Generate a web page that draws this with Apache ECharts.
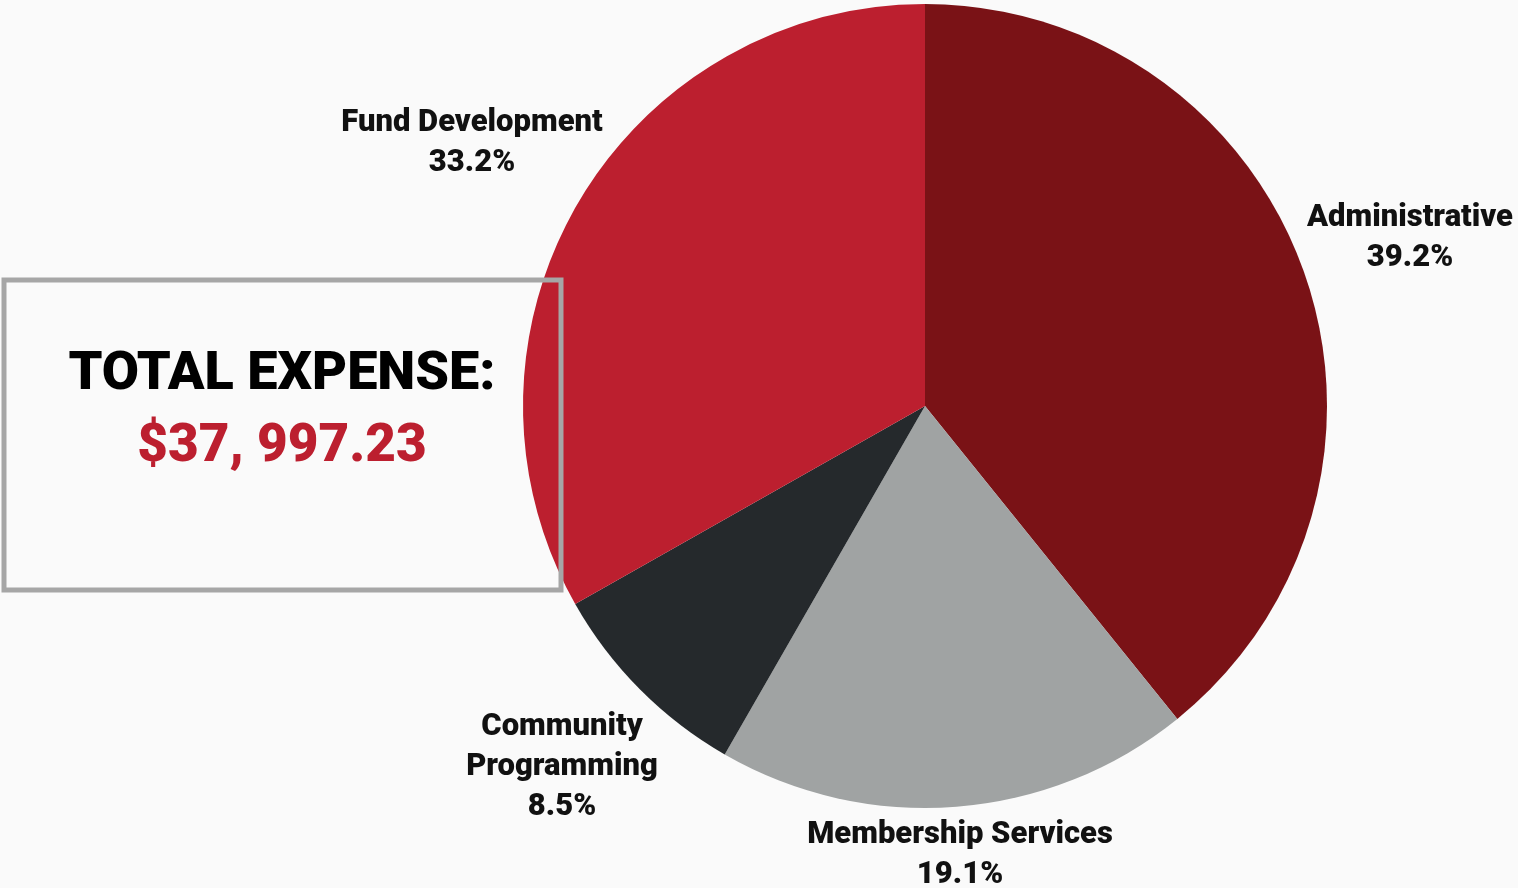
<!DOCTYPE html>
<html><head><meta charset="utf-8">
<script src="https://cdn.jsdelivr.net/npm/echarts@6/dist/echarts.min.js"></script>
<style>html,body{margin:0;padding:0;background:#fafafa;}#c{width:1518px;height:888px;}</style>
</head><body><div id="c"></div>
<script>
const categories = ['Administrative', 'Membership Services', 'Community\nProgramming', 'Fund Development'];
const values = [39.2, 19.1, 8.5, 33.2];
const colors = ['#7a1216', '#a0a3a3', '#25292c', '#bc1f2f'];
const labelSpots = [[1410, 238], [960, 855], [562, 767], [472, 143]];
const totalTitle = 'TOTAL EXPENSE:';
const totalValue = '$37, 997.23';

const chart = echarts.init(document.getElementById('c'), null, {renderer: 'canvas'});
chart.setOption({
  backgroundColor: '#fafafa',
  animation: false,
  series: [{
    type: 'pie',
    center: [925, 406],
    radius: 402,
    startAngle: 90,
    clockwise: true,
    data: categories.map((c, i) => ({name: c, value: values[i], itemStyle: {color: colors[i]}})),
    itemStyle: {borderWidth: 0},
    label: {
      show: true,
      position: 'outside',
      formatter: p => p.name + '\n' + p.value.toFixed(1) + '%',
      fontFamily: 'Roboto',
      fontWeight: 900,
      fontSize: 31,
      lineHeight: 40,
      color: '#111',
      align: 'center',
      overflow: 'none',
      width: 400
    },
    labelLine: {show: false},
    labelLayout: p => ({x: labelSpots[p.dataIndex][0], y: labelSpots[p.dataIndex][1], align: 'center', verticalAlign: 'middle'})
  }],
  graphic: [
    {type: 'rect', z: 100, shape: {x: 4, y: 280, width: 557, height: 310}, style: {fill: 'none', stroke: '#a6a6a6', lineWidth: 5}},
    {type: 'text', z: 101, x: 282, y: 375, style: {text: totalTitle, font: '900 54px Roboto', fill: '#000', textAlign: 'center', textVerticalAlign: 'middle'}},
    {type: 'text', z: 101, x: 282, y: 448, style: {text: totalValue, font: '900 53px Roboto', fill: '#bc1f2f', textAlign: 'center', textVerticalAlign: 'middle'}}
  ]
});
</script></body></html>
